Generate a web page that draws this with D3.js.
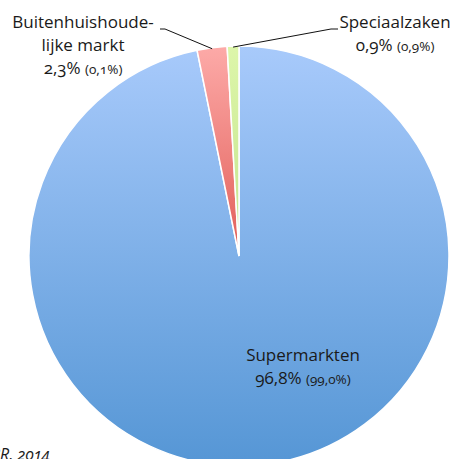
<!DOCTYPE html>
<html>
<head>
<meta charset="utf-8">
<script src="https://cdn.jsdelivr.net/npm/d3@7"></script>
<style>
  body { margin: 0; background: #fff; }
  svg text { font-family: "Open Sans", "Noto Sans", sans-serif; fill: #1a1a1a; font-variant-numeric: oldstyle-nums; }
</style>
</head>
<body>
<svg id="chart" width="452" height="459"></svg>
<script>
// share per channel, value in brackets = previous share
const categories = ["Supermarkten", "Buitenhuishoudelijke markt", "Speciaalzaken"];
const shares = [96.8, 2.3, 0.9];
const previous = [99.0, 0.1, 0.9];
const topColors = ["#a8cafb", "#fdaaa8", "#ddf6aa"];
const bottomColors = ["#5596d5", "#e15e58", "#c4e48e"];

const svg = d3.select("#chart");
const cx = 239, cy = 256, r = 210;

var defs = svg.append("defs");
categories.forEach((c, i) => {
  var g = defs.append("linearGradient")
    .attr("id", "grad" + i)
    .attr("x1", 0).attr("y1", 0).attr("x2", 0).attr("y2", 1);
  g.append("stop").attr("offset", "0%").attr("stop-color", topColors[i]);
  g.append("stop").attr("offset", "100%").attr("stop-color", bottomColors[i]);
});

const data = categories.map((c, i) => ({ name: c, value: shares[i], prev: previous[i], i: i }));
const pie = d3.pie().sort(null).value(d => d.value);
const arc = d3.arc().innerRadius(0).outerRadius(r);

const g = svg.append("g").attr("transform", `translate(${cx},${cy})`);
g.selectAll("path")
  .data(pie(data))
  .join("path")
  .attr("d", arc)
  .attr("fill", d => `url(#grad${d.data.i})`)
  .attr("stroke", "#fff")
  .attr("stroke-width", 1.5);

const fmt = v => v.toFixed(1).replace(".", ",") + "%";

// leader lines
const arcs = pie(data);
const edge = d3.arc().innerRadius(r - 1).outerRadius(r - 1);
const pPink = edge.centroid(arcs[1]);
const pGreen = edge.centroid(arcs[2]);
svg.append("polyline")
  .attr("points", [[160, 29], [165, 29], [cx + pPink[0], cy + pPink[1]]].join(" "))
  .attr("fill", "none").attr("stroke", "#111").attr("stroke-width", 1);
svg.append("polyline")
  .attr("points", [[cx + pGreen[0], cy + pGreen[1]], [331, 29], [338, 29]].join(" "))
  .attr("fill", "none").attr("stroke", "#111").attr("stroke-width", 1);

function label(x, y, lines, d, anchor) {
  var t = svg.append("text").attr("x", x).attr("y", y).attr("text-anchor", anchor).attr("font-size", 17);
  lines.forEach((l, k) => {
    t.append("tspan").attr("x", x).attr("dy", k === 0 ? 0 : 23).text(l);
  });
  t.append("tspan").attr("x", x).attr("dy", 23).text(fmt(d.value) + " ");
  t.append("tspan").attr("font-size", 13.5).text("(" + fmt(d.prev) + ")");
}

label(83, 28, ["Buitenhuishoude-", "lijke markt"], data[1], "middle");
label(395, 28, ["Speciaalzaken"], data[2], "middle");
label(303, 361, ["Supermarkten"], data[0], "middle");

svg.append("text")
  .attr("x", 50).attr("y", 460)
  .attr("text-anchor", "end")
  .attr("font-size", 16)
  .attr("font-style", "italic")
  .text("Bron: HBR, 2014");
</script>
</body>
</html>
